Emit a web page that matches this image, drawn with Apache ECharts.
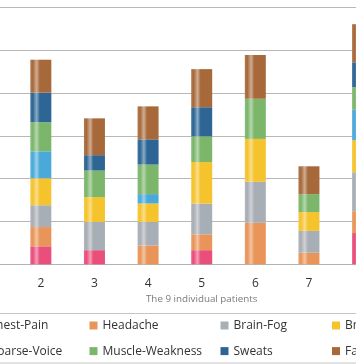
<!DOCTYPE html>
<html>
<head>
<meta charset="utf-8">
<script src="https://cdn.jsdelivr.net/npm/echarts@6/dist/echarts.min.js"></script>
<style>
html,body{margin:0;padding:0;background:#fff;}
#chart{width:356px;height:364px;}
</style>
</head>
<body>
<div id="chart"></div>
<script>
const patients = ['1','2','3','4','5','6','7','8','9'];
const symptomNames = ['Chest-Pain','Headache','Brain-Fog','Breathlessness','Hoarse-Voice','Muscle-Weakness','Sweats','Fatigue'];
const symptomColors = ['#ea4e7b','#e99458','#a8aeb5','#f5c32c','#4ba9d9','#7bb66b','#2d6694','#a8693a'];
const chestPain      = [5, 4.2, 3.3, 0, 3.3, 0, 0, 7.3, 4];
const headache       = [4, 4.5, 0, 4.4, 3.7, 9.7, 2.7, 5.1, 3];
const brainFog       = [6, 5.1, 6.6, 5.5, 7.2, 9.6, 5.1, 9.1, 5];
const breathlessness = [5, 6.3, 5.8, 4.3, 9.7, 10.0, 4.4, 7.5, 6];
const hoarseVoice    = [3, 6.3, 0, 2.2, 0, 0, 0, 7.1, 2];
const muscleWeakness = [6, 6.8, 6.2, 6.9, 6.0, 9.4, 4.2, 5.3, 5];
const sweats         = [5, 6.9, 3.6, 5.9, 6.8, 0, 0, 5.8, 4];
const fatigue        = [8, 7.7, 8.6, 7.7, 8.9, 10.2, 6.5, 8.9, 7];
const seriesValues = [chestPain, headache, brainFog, breathlessness, hoarseVoice, muscleWeakness, sweats, fatigue];

function lighten(hex, t){
  const n = parseInt(hex.slice(1),16);
  const r=(n>>16)&255,g=(n>>8)&255,b=n&255;
  const f=c=>Math.round(c+(255-c)*t);
  return 'rgb('+f(r)+','+f(g)+','+f(b)+')';
}
function grad(c){
  return new echarts.graphic.LinearGradient(0,0,1,0,[
    {offset:0,color:lighten(c,0.1)},
    {offset:0.12,color:c},
    {offset:0.3,color:lighten(c,0.45)},
    {offset:0.45,color:c},
    {offset:1,color:c}
  ]);
}

const series = symptomNames.map((name,i)=>({
  name:name,
  type:'bar',
  stack:'total',
  barWidth:21,
  data:seriesValues[i],
  itemStyle:{color:grad(symptomColors[i])}
}));

const legendCols = [[0,4],[1,5],[2,6],[3,7]];
const legendLefts = [-24.5, 89.5, 220.5, 332];
const legends = legendCols.map((col,k)=>({
  orient:'vertical',
  left:legendLefts[k],
  top:319.5,
  padding:0,
  itemGap:13.6,
  itemWidth:8,
  itemHeight:8,
  icon:'rect',
  textStyle:{fontFamily:'Open Sans',fontSize:12,color:'#333'},
  data:col.map(i=>({name:symptomNames[i],itemStyle:{color:symptomColors[i]}}))
}));

const chart = echarts.init(document.getElementById('chart'));
chart.setOption({
  animation:false,
  backgroundColor:'#fff',
  grid:{left:-39.6,right:-87,top:7.5,bottom:99.7,outerBoundsMode:'none',containLabel:false},
  xAxis:{
    type:'category',
    data:patients,
    name:'The 9 individual patients',
    nameLocation:'middle',
    nameGap:30,
    nameTextStyle:{fontFamily:'Open Sans',fontSize:9.8,color:'#7a7a7a'},
    axisTick:{show:false},
    axisLine:{lineStyle:{color:'#b3b3b3',width:1}},
    axisLabel:{fontFamily:'Open Sans',fontSize:12,color:'#333',margin:13}
  },
  yAxis:{
    type:'value',
    min:0,max:60,interval:10,
    axisLabel:{show:false},
    axisLine:{show:false},
    axisTick:{show:false},
    splitLine:{lineStyle:{color:'#b8b8b8',width:1}}
  },
  legend:legends,
  graphic:[{
    type:'rect',
    shape:{x:-5,y:313.5,width:370,height:49.5},
    style:{fill:'none',stroke:'#c6c6c6',lineWidth:1},
    silent:true
  }],
  series:series
});
</script>
</body>
</html>
